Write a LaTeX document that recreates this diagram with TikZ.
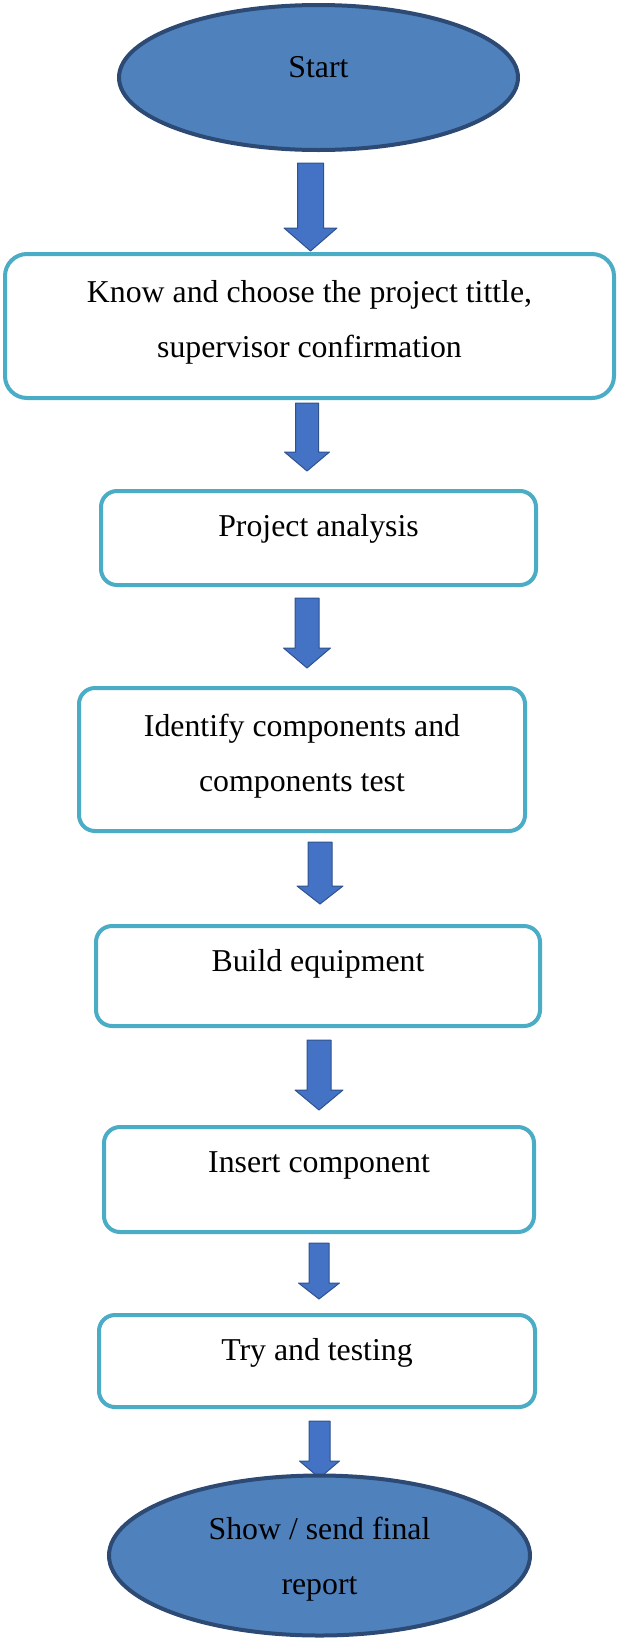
\documentclass[tikz,border=0pt]{standalone}
\usepackage{fontspec}
\setmainfont{Liberation Serif}
\usetikzlibrary{calc}
\usetikzlibrary{shapes.geometric}
\usetikzlibrary{backgrounds}
\definecolor{termfill}{HTML}{4F81BD}
\definecolor{termline}{HTML}{2C4A74}
\definecolor{boxline}{HTML}{4BACC6}
\definecolor{arrowfill}{HTML}{4472C4}
\definecolor{arrowline}{HTML}{2F528F}
\tikzset{term/.style = {ellipse, fill=termfill, draw=termline, line width=4pt, inner sep=0pt, align=center}}
\tikzset{stepbox/.style = {rectangle, rounded corners=16pt, draw=boxline, fill=white, line width=4pt, inner sep=0pt, align=center}}
\tikzset{oneline/.style = {text height=21pt, text depth=#1}}
\tikzset{blockarrow/.style = {fill=arrowfill, draw=arrowline, line width=1pt, line join=round}}
% tail, tip, half shaft, half head, head length
\newcommand{\flowarrow}[5]{%
  \draw [blockarrow] let \p1 = (#1), \p2 = (#2) in
    (\x1 - #3pt, \y1) -- (\x1 + #3pt, \y1) -- (\x1 + #3pt, \y2 + #5pt) -- (\x1 + #4pt, \y2 + #5pt)
    -- (\x1, \y2) -- (\x1 - #4pt, \y2 + #5pt) -- (\x1 - #3pt, \y2 + #5pt) -- cycle;}

\begin{document}
\begin{tikzpicture}[x=1pt, y=-1pt, font=\fontsize{31.8pt}{55pt}\selectfont]
      \useasboundingbox (0, 0) rectangle (617, 1639);

      \node [term, minimum width=399pt, minimum height=145pt, oneline=21pt] (start) at (318.5, 77.5) {Start};
      \node [stepbox, rounded corners=22pt, minimum width=609pt, minimum height=144pt, text depth=14pt] (choose) at (309.5, 326) {Know and choose the project tittle,\\ supervisor confirmation};
      \node [stepbox, minimum width=435pt, minimum height=94pt, oneline=25pt] (analysis) at (318.5, 538) {Project analysis};
      \node [stepbox, minimum width=446pt, minimum height=143pt, text depth=14pt] (identify) at (302, 759.5) {Identify components and\\ components test};
      \node [stepbox, minimum width=444pt, minimum height=100pt, oneline=30pt] (build) at (318, 976) {Build equipment};
      \node [stepbox, minimum width=430pt, minimum height=105pt, oneline=35pt] (insert) at (319, 1179.5) {Insert component};
      \node [stepbox, minimum width=436pt, minimum height=92pt, oneline=23pt] (testing) at (317, 1361) {Try and testing};
      \node [term, minimum width=421pt, minimum height=160pt, text depth=0pt] (finish) at (319.5, 1555.5) {Show / send final\\ report};

      \coordinate (arr1-top) at (310.5, 163);  \coordinate (arr1-tip) at (310.5, 251);
      \coordinate (arr2-top) at (307, 403);    \coordinate (arr2-tip) at (307, 471);
      \coordinate (arr3-top) at (307, 598);    \coordinate (arr3-tip) at (307, 668);
      \coordinate (arr4-top) at (320, 842);    \coordinate (arr4-tip) at (320, 904);
      \coordinate (arr5-top) at (319, 1040);   \coordinate (arr5-tip) at (319, 1110);
      \coordinate (arr6-top) at (319, 1243);   \coordinate (arr6-tip) at (319, 1299);
      \coordinate (arr7-top) at (319.5, 1421); \coordinate (arr7-tip) at (319.5, 1478);

      \begin{scope}[on background layer]
        \flowarrow{arr1-top}{arr1-tip}{13}{26.5}{23}
        \flowarrow{arr2-top}{arr2-tip}{11.5}{22.5}{19}
        \flowarrow{arr3-top}{arr3-tip}{12}{23.5}{20}
        \flowarrow{arr4-top}{arr4-tip}{12}{23}{18}
        \flowarrow{arr5-top}{arr5-tip}{12}{24}{20}
        \flowarrow{arr6-top}{arr6-tip}{10}{20.5}{16}
        \flowarrow{arr7-top}{arr7-tip}{10.5}{20}{17}
      \end{scope}

    \end{tikzpicture}
\end{document}
